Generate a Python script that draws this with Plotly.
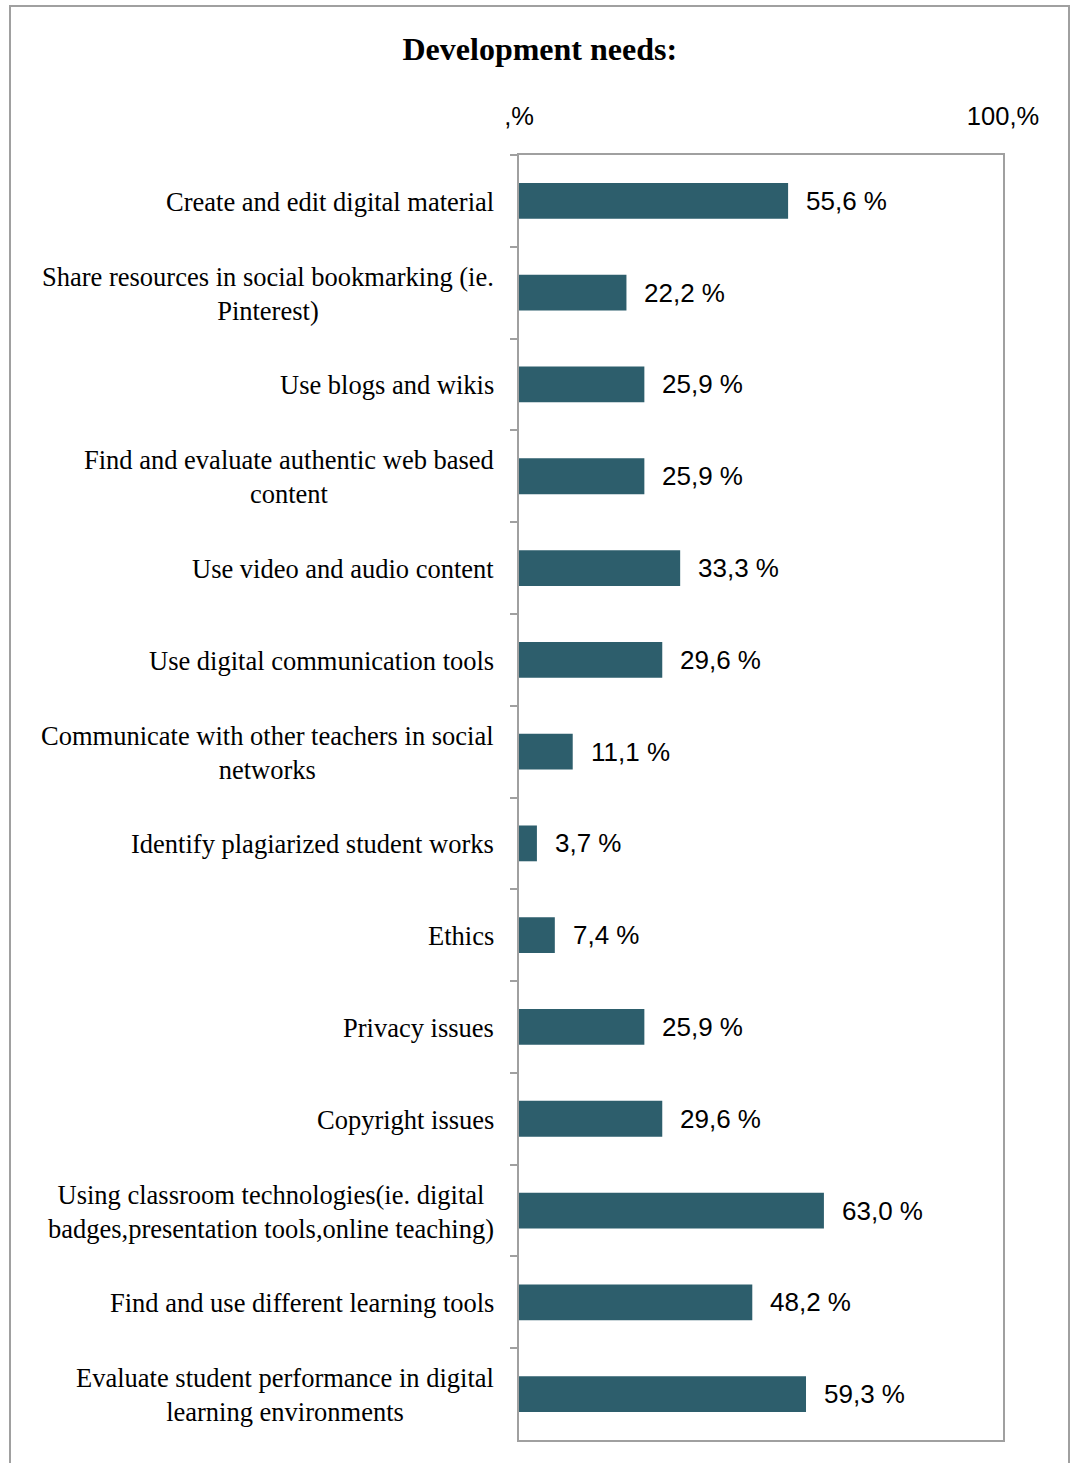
import plotly.graph_objects as go

categories = [
    "Create and edit digital material",
    "Share resources in social bookmarking (ie.<br>Pinterest)",
    "Use blogs and wikis",
    "Find and evaluate authentic web based<br>content",
    "Use video and audio content",
    "Use digital communication tools",
    "Communicate with other teachers in social<br>networks",
    "Identify plagiarized student works",
    "Ethics",
    "Privacy issues",
    "Copyright issues",
    "Using classroom technologies(ie. digital<br>badges,presentation tools,online teaching)",
    "Find and use different learning tools",
    "Evaluate student performance in digital<br>learning environments",
]
values = [55.6, 22.2, 25.9, 25.9, 33.3, 29.6, 11.1, 3.7, 7.4, 25.9, 29.6, 63.0, 48.2, 59.3]
x_tick_vals = [0, 100]
x_tick_text = [",%", "100,%"]

W, H = 1071, 1463
L, R, T, B = 519, 1003, 155, 1440
BAR = "#2d5e6c"
GRAY = "#a0a0a0"
SERIF = "Liberation Serif, Times New Roman, serif"
SANS = "Liberation Sans, Arial, sans-serif"

fig = go.Figure()
fig.add_trace(go.Bar(
    y=categories, x=values, orientation="h",
    marker=dict(color=BAR, line=dict(width=0)),
    hoverinfo="x+y",
))

annotations = []
for c, v in zip(categories, values):
    annotations.append(dict(
        x=0, xref="paper", y=c, yref="y", text=c, showarrow=False,
        xanchor="right", yanchor="middle", align="center", xshift=-23, yshift=-1,
        font=dict(family=SERIF, size=26.5, color="#000"),
    ))
    annotations.append(dict(
        x=v, xref="x", y=c, yref="y", text=f"{v:.1f} %".replace(".", ","),
        showarrow=False, xanchor="left", yanchor="middle", xshift=16,
        font=dict(family=SANS, size=26, color="#000"),
    ))

pw, ph = R - L, B - T
def px(xp): return (xp - L) / pw
def py(yp): return (B - yp) / ph

fig.update_layout(
    width=W, height=H,
    margin=dict(l=L, r=W - R, t=T, b=H - B, pad=0),
    paper_bgcolor="white", plot_bgcolor="white",
    separators=", ",
    showlegend=False,
    bargap=0.61,
    title=dict(text="<b>Development needs:</b>", x=0.504, xanchor="center",
               y=1 - 49 / H, yanchor="middle",
               font=dict(family=SERIF, size=32, color="#000")),
    xaxis=dict(range=[0, 100], side="top", tickvals=x_tick_vals, ticktext=x_tick_text,
               showgrid=False, zeroline=False, showline=True, mirror=True,
               linecolor=GRAY, linewidth=2, ticks="", ticklabelstandoff=18,
               tickfont=dict(family=SANS, size=25.5, color="#000")),
    yaxis=dict(autorange="reversed", showticklabels=False, showgrid=False,
               showline=True, mirror=True, linecolor=GRAY, linewidth=2,
               ticks="outside", tickson="boundaries", ticklen=7, tickcolor=GRAY,
               tickwidth=2, zeroline=False),
    annotations=annotations,
    shapes=[dict(type="rect", xref="paper", yref="paper",
                 x0=px(10), x1=px(1069), y0=py(1480), y1=py(6),
                 line=dict(color=GRAY, width=2), fillcolor="rgba(0,0,0,0)", layer="below")],
)

fig.write_html("out.html")
